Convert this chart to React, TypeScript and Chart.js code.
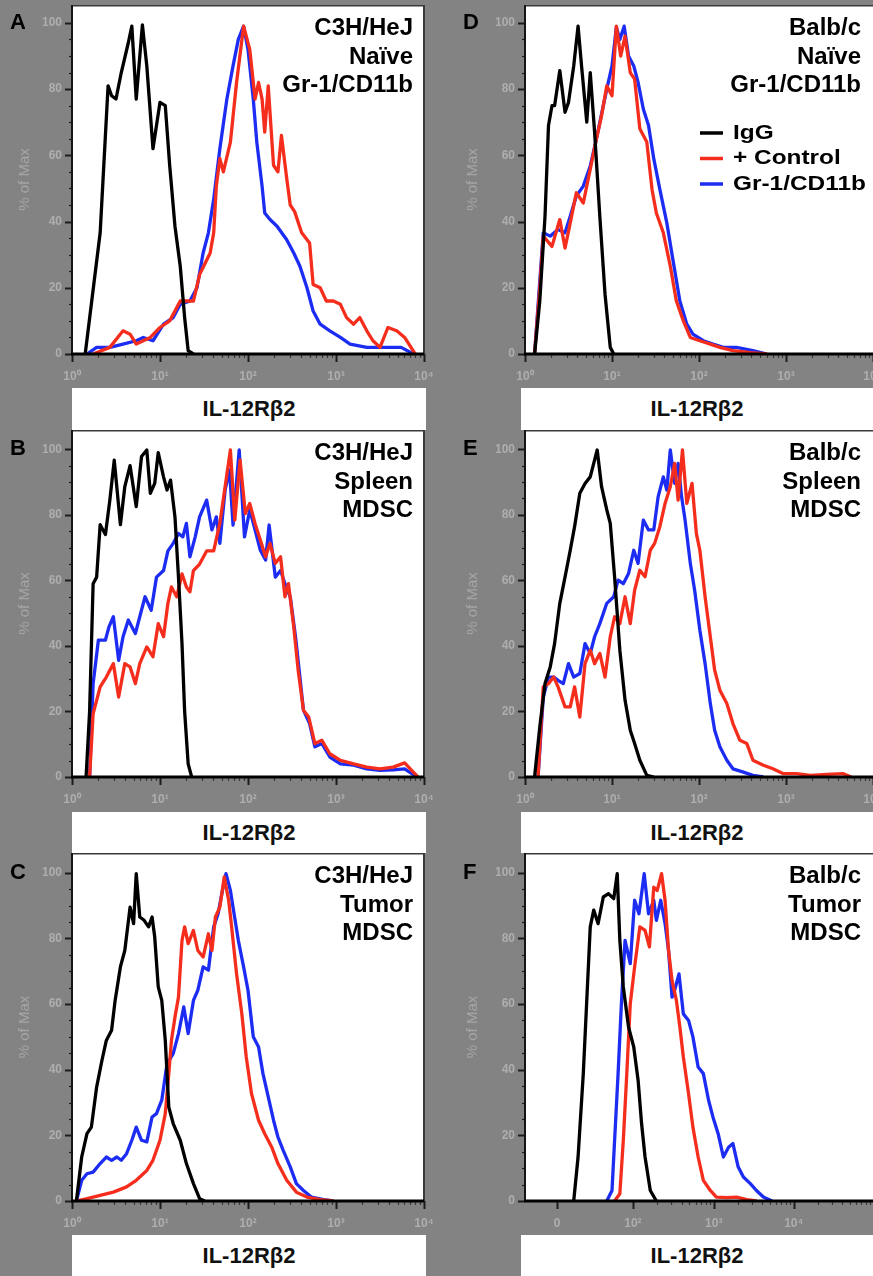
import React, { useEffect, useRef } from 'react';
import { Chart, registerables } from 'chart.js';

Chart.register(...registerables);

// ---------------- data ----------------
const SERIES_LABELS = ['IgG', '+ Control', 'Gr-1/CD11b'];
const SERIES_COLORS = ['#000000', '#f52d1c', '#1c2cf2'];

const Y_TICKS = [0, 20, 40, 60, 80, 100];
const Y_TITLE = '% of Max';
const X_TITLE = 'IL-12Rβ2';

// x values are in decades (log10 of fluorescence)
const X_TICKS_LOG = [0, 1, 2, 3, 4];
const X_TICK_LABELS_LOG = ['10⁰', '10¹', '10²', '10³', '10⁴'];
const X_TICKS_F = [0.37, 1.24, 2.17, 3.09];
const X_TICK_LABELS_F = ['0', '10²', '10³', '10⁴'];

const PANEL_LETTERS = ['A', 'B', 'C', 'D', 'E', 'F'];
const PANEL_TEXT = [
  ['C3H/HeJ', 'Naïve', 'Gr-1/CD11b'],
  ['C3H/HeJ', 'Spleen', 'MDSC'],
  ['C3H/HeJ', 'Tumor', 'MDSC'],
  ['Balb/c', 'Naïve', 'Gr-1/CD11b'],
  ['Balb/c', 'Spleen', 'MDSC'],
  ['Balb/c', 'Tumor', 'MDSC'],
];

type P = [number, number][];

const A_IGG: P = [[0.15,0],[0.32,36.6],[0.41,81],[0.45,78],[0.5,77],[0.56,85],[0.64,94],[0.68,99],[0.73,77],[0.8,99.4],[0.85,87],[0.92,62],[1.0,76],[1.06,75],[1.11,57],[1.17,38.6],[1.23,26.5],[1.28,11],[1.32,1],[1.38,0]];
const A_CTRL: P = [[0.24,0],[0.43,2],[0.58,7],[0.66,6],[0.73,3],[0.89,5],[1.0,8],[1.11,10],[1.23,16],[1.38,16],[1.45,24],[1.57,30.5],[1.61,36.6],[1.64,50.7],[1.68,59],[1.72,55],[1.8,64],[1.87,82],[1.95,99],[2.02,92],[2.08,77],[2.12,82],[2.16,77],[2.19,67],[2.23,81],[2.29,57],[2.34,55],[2.38,66],[2.44,53],[2.48,45],[2.53,43],[2.61,36.6],[2.7,33.5],[2.74,21],[2.82,20],[2.89,16],[2.97,16],[3.05,15],[3.12,11],[3.2,9],[3.27,11],[3.35,7],[3.42,4],[3.5,2],[3.59,8],[3.69,7],[3.78,5],[3.9,0]];
const A_GR1: P = [[0.17,0],[0.28,2],[0.43,2],[0.58,3],[0.73,4],[0.81,5],[0.92,4],[1.04,9],[1.15,11],[1.23,15],[1.34,16],[1.42,20],[1.49,30.5],[1.55,36.6],[1.61,46.7],[1.68,62],[1.76,77],[1.83,87],[1.89,95],[1.95,99],[2.0,92],[2.06,77],[2.1,64],[2.16,50.7],[2.19,42.6],[2.25,40.6],[2.33,38.6],[2.44,34.5],[2.52,30.5],[2.59,26.5],[2.67,20],[2.74,13],[2.82,9],[2.93,7],[3.05,5],[3.16,3],[3.35,2],[3.54,2],[3.74,2],[3.88,0]];

const B_IGG: P = [[0.16,0],[0.2,20],[0.24,59],[0.28,61],[0.32,77],[0.38,74],[0.43,84.5],[0.48,96.7],[0.55,77],[0.6,88.6],[0.66,95],[0.73,82.5],[0.79,97.8],[0.85,99.8],[0.89,86.6],[0.94,89.6],[0.98,99],[1.04,91.6],[1.08,87.6],[1.12,90.6],[1.17,79.4],[1.21,61],[1.25,40.7],[1.28,20],[1.32,4],[1.36,0]];
const B_CTRL: P = [[0.2,0],[0.24,19.3],[0.32,27.5],[0.39,30.5],[0.47,34.6],[0.53,24.4],[0.6,34.6],[0.66,33.6],[0.72,28.5],[0.77,34.6],[0.85,39.7],[0.92,36.7],[0.98,46.8],[1.04,42.8],[1.09,53],[1.13,58],[1.19,55],[1.25,62],[1.3,58],[1.34,56.5],[1.38,63],[1.45,65],[1.53,69],[1.61,69],[1.68,77.4],[1.74,88.6],[1.8,99.8],[1.85,78.4],[1.91,96.7],[1.97,80.4],[2.02,83.5],[2.08,77.4],[2.14,72.3],[2.2,67.2],[2.25,71.3],[2.31,65.2],[2.37,67.2],[2.42,55],[2.46,59],[2.52,45.8],[2.57,32.6],[2.63,20.4],[2.69,18.3],[2.76,10.2],[2.84,11.2],[2.93,7.1],[3.05,5.1],[3.2,4],[3.35,3],[3.5,2.5],[3.65,3],[3.78,4.3],[3.86,2],[3.93,0]];
const B_GR1: P = [[0.2,0],[0.24,28.5],[0.3,41.8],[0.38,41.8],[0.42,45.8],[0.47,48.9],[0.53,35.6],[0.58,42.8],[0.64,47.9],[0.72,43.8],[0.77,48.9],[0.83,55],[0.9,50.9],[0.96,61],[1.04,63],[1.09,69],[1.15,71.3],[1.21,74.3],[1.26,73.3],[1.3,77.4],[1.34,67.2],[1.4,73.3],[1.45,79.4],[1.53,84.5],[1.59,75.4],[1.64,79.4],[1.68,71.3],[1.74,87.6],[1.79,93.7],[1.83,76.9],[1.9,99.8],[1.96,73.3],[2.02,81.5],[2.08,75.4],[2.14,69.2],[2.2,66.2],[2.24,76.9],[2.31,61],[2.37,63],[2.42,59],[2.48,55],[2.54,42.8],[2.59,30.5],[2.63,20.4],[2.7,16.3],[2.76,9.2],[2.84,10.2],[2.93,6.1],[3.05,4],[3.2,3.6],[3.35,2.5],[3.5,2],[3.65,2.2],[3.78,2.5],[3.92,0]];

const C_IGG: P = [[0.05,0],[0.11,13.4],[0.17,20.5],[0.22,22.5],[0.28,34.7],[0.34,42.8],[0.39,48.9],[0.45,52],[0.49,61.1],[0.55,71.3],[0.6,76.3],[0.66,89.5],[0.7,84.5],[0.73,99.7],[0.77,86.5],[0.82,85.5],[0.87,83.5],[0.91,86.5],[0.94,80.4],[0.98,65.2],[1.02,61.1],[1.06,48.9],[1.1,28.6],[1.15,23.6],[1.23,18.5],[1.3,11.4],[1.38,5.3],[1.45,0.7],[1.51,0]];
const C_CTRL: P = [[0.05,0],[0.17,0.7],[0.32,1.7],[0.47,2.7],[0.62,4.3],[0.73,6.3],[0.85,9.3],[0.92,12.4],[1.0,18.5],[1.06,26.6],[1.1,38.8],[1.13,48.9],[1.17,56],[1.21,62.1],[1.25,79.4],[1.28,83.5],[1.32,78.4],[1.38,82.4],[1.43,76.3],[1.49,74.3],[1.55,81.4],[1.59,76.3],[1.63,86.5],[1.68,89.5],[1.73,98.7],[1.78,91.6],[1.81,84.5],[1.87,69.2],[1.93,57],[1.98,43.9],[2.04,32.7],[2.12,24.6],[2.19,20.5],[2.27,16.4],[2.34,11.4],[2.44,6.3],[2.55,2.7],[2.67,1.2],[2.82,0.4],[2.97,0]];
const C_GR1: P = [[0.05,0],[0.11,6.3],[0.17,8.3],[0.24,8.8],[0.32,11.4],[0.39,13.4],[0.45,12.4],[0.51,13.4],[0.56,12.4],[0.62,14.4],[0.68,18.5],[0.73,22.5],[0.79,18.5],[0.85,18],[0.91,25.6],[0.96,26.6],[1.02,30.7],[1.08,41.8],[1.15,44.9],[1.21,51],[1.27,59.1],[1.32,51],[1.38,61.1],[1.43,64.2],[1.49,71.3],[1.55,70.3],[1.61,83.5],[1.66,87.5],[1.71,94.6],[1.75,99.7],[1.8,94.6],[1.83,89.5],[1.89,79.4],[1.95,71.3],[2.0,64.2],[2.06,50],[2.12,46.9],[2.17,38.8],[2.23,31.7],[2.29,24.6],[2.34,19.5],[2.4,15.4],[2.48,10.4],[2.55,5.3],[2.63,3.2],[2.72,1.2],[2.86,0.4],[2.97,0]];

const D_IGG: P = [[0.11,0],[0.17,16],[0.23,41.6],[0.27,69],[0.31,75],[0.34,75],[0.4,85.6],[0.46,73],[0.5,76],[0.56,87],[0.61,99],[0.65,87],[0.71,70],[0.75,85],[0.8,67],[0.86,41.6],[0.92,18],[0.98,2],[1.02,0]];
const D_CTRL: P = [[0.11,0],[0.17,20],[0.21,35.6],[0.31,32.5],[0.4,40.6],[0.46,32],[0.52,39.6],[0.59,48.7],[0.67,45.6],[0.75,55.8],[0.82,64.8],[0.88,72],[0.94,81],[1.0,78],[1.05,99],[1.1,90],[1.15,96],[1.21,85],[1.26,83],[1.32,68],[1.4,64],[1.46,49.7],[1.51,42.6],[1.59,36.6],[1.67,26.5],[1.74,16],[1.82,10],[1.9,5],[2.01,4],[2.13,3],[2.24,2],[2.39,1],[2.59,0.4],[2.78,0]];
const D_GR1: P = [[0.11,0],[0.17,22],[0.21,36.6],[0.29,35.6],[0.38,37.6],[0.46,36.6],[0.52,41.6],[0.59,47.7],[0.67,50.7],[0.75,56.8],[0.82,64.8],[0.9,75],[0.94,80],[1.0,87],[1.05,98.7],[1.09,95],[1.14,99],[1.19,90],[1.25,87],[1.3,82],[1.36,74],[1.42,69],[1.48,59],[1.55,49.7],[1.63,39.6],[1.7,28.5],[1.78,16],[1.86,9],[1.93,6],[2.05,4],[2.16,3],[2.28,2],[2.43,2],[2.62,1],[2.78,0]];

const E_IGG: P = [[0.11,0],[0.17,15.3],[0.23,28.5],[0.29,33.6],[0.34,40.7],[0.4,53],[0.46,61],[0.52,69.2],[0.57,76.4],[0.63,86.6],[0.69,89.6],[0.75,91.6],[0.79,95.7],[0.83,99.8],[0.88,88.6],[0.94,81.5],[0.98,77.4],[1.03,61],[1.09,38.7],[1.15,23.4],[1.21,14.3],[1.26,10.2],[1.32,5.1],[1.4,0.5],[1.48,0]];
const E_CTRL: P = [[0.15,0],[0.21,27.5],[0.27,28.5],[0.33,30.5],[0.38,27.5],[0.46,21.4],[0.52,21.4],[0.57,27.5],[0.63,18.3],[0.69,34.6],[0.75,38.7],[0.8,34.6],[0.86,37.7],[0.92,30.5],[0.98,42.8],[1.03,48.9],[1.09,46.8],[1.15,55],[1.21,46.8],[1.26,57],[1.32,63.1],[1.38,61.1],[1.44,69.2],[1.49,71.3],[1.55,76.4],[1.61,83.5],[1.67,88.6],[1.72,95.7],[1.76,84.5],[1.81,99.8],[1.86,83.5],[1.92,89.6],[1.97,74.3],[2.01,69.2],[2.07,55],[2.13,42.8],[2.18,32.6],[2.24,26.5],[2.32,22.4],[2.39,16.3],[2.47,11.2],[2.55,10.2],[2.62,5.1],[2.74,3.6],[2.85,2.5],[2.97,1],[3.12,1],[3.28,0.5],[3.47,0.8],[3.66,1],[3.75,0]];
const E_GR1: P = [[0.15,0],[0.21,24.4],[0.27,30.5],[0.33,30.5],[0.38,29.5],[0.44,28.5],[0.5,34.6],[0.56,30.5],[0.63,31.6],[0.69,40.7],[0.75,37.7],[0.8,42.8],[0.86,46.8],[0.94,53],[1.02,55],[1.07,60.1],[1.13,59],[1.19,62.1],[1.25,69.2],[1.3,65.2],[1.36,78.4],[1.42,75.4],[1.48,75.4],[1.53,85.5],[1.59,91.6],[1.63,87.6],[1.67,99.8],[1.72,89.6],[1.76,95.7],[1.8,85.5],[1.84,78.4],[1.9,65.2],[1.95,57],[2.01,44.8],[2.07,34.6],[2.13,22.4],[2.18,14.3],[2.24,9.2],[2.32,5.1],[2.39,2.5],[2.51,1.5],[2.62,0.5],[2.74,0]];

const F_IGG: P = [[0.56,0],[0.61,13.4],[0.67,38.8],[0.71,61.1],[0.75,83.5],[0.79,88.6],[0.84,84.5],[0.9,92.6],[0.96,93.6],[1.02,92.1],[1.06,99.7],[1.09,79.4],[1.13,65.2],[1.19,53],[1.25,46.9],[1.3,36.8],[1.34,23.6],[1.38,13.4],[1.44,3.2],[1.51,0]];
const F_CTRL: P = [[1.03,0],[1.09,2.2],[1.13,18.5],[1.17,38.8],[1.21,60.1],[1.26,71.3],[1.32,83.5],[1.38,82.4],[1.43,77.4],[1.48,95.6],[1.52,94.6],[1.57,99.7],[1.61,91.6],[1.65,76.3],[1.69,67.2],[1.74,61.1],[1.78,53],[1.82,43.9],[1.88,32.7],[1.93,22.5],[1.99,13.4],[2.05,6.3],[2.13,3.2],[2.2,1.2],[2.32,1],[2.43,1.2],[2.55,0.4],[2.66,0]];
const F_GR1: P = [[0.94,0],[1.0,3.2],[1.03,18.5],[1.07,38.8],[1.11,61.1],[1.15,79.4],[1.21,72.3],[1.26,91.6],[1.31,87.5],[1.37,99.7],[1.42,87.5],[1.48,91.6],[1.51,85.5],[1.56,91.6],[1.61,84.5],[1.65,76.3],[1.69,62.1],[1.72,64.2],[1.77,69.2],[1.82,57],[1.88,55],[1.93,50],[1.99,40.8],[2.05,38.8],[2.11,30.7],[2.16,25.6],[2.22,20.5],[2.28,13.4],[2.34,16.4],[2.39,17.5],[2.45,10.4],[2.51,7.3],[2.59,5.3],[2.66,3.2],[2.74,1.2],[2.84,0]];

const PANEL_SERIES: P[][] = [
  [A_IGG, A_CTRL, A_GR1],
  [B_IGG, B_CTRL, B_GR1],
  [C_IGG, C_CTRL, C_GR1],
  [D_IGG, D_CTRL, D_GR1],
  [E_IGG, E_CTRL, E_GR1],
  [F_IGG, F_CTRL, F_GR1],
];

// ---------------- layout ----------------
const BG = '#838383';
const TICK_COLOR = '#aeaeae';
const FONT = '"Liberation Sans", Arial, Helvetica, sans-serif';
const Y_AXIS_W = 72;
const COLS = [
  { plotLeft: 72, plotW: 352, rightPad: 17, boxLeft: 72, boxW: 354, titlePad: 16, textInset: 11 },
  { plotLeft: 525, plotW: 348, rightPad: 0, boxLeft: 521, boxW: 352, titlePad: 11, textInset: 12 },
];
const ROWS = [
  { canvasTop: 0, canvasH: 388, padTop: 5, xAxisH: 34, yMax: 105.4, boxTop: 388, boxH: 42 },
  { canvasTop: 428, canvasH: 384, padTop: 2, xAxisH: 35, yMax: 105.9, boxTop: 812, boxH: 41 },
  { canvasTop: 851, canvasH: 384, padTop: 2, xAxisH: 34, yMax: 106, boxTop: 1235, boxH: 41 },
];

function minorTicks(majors: number[], isF: boolean): number[] {
  const out: number[] = [];
  const segs: [number, number][] = [];
  for (let i = 0; i < majors.length - 1; i++) {
    if (isF && i === 0) continue;
    segs.push([majors[i], majors[i + 1]]);
  }
  if (isF) segs.push([majors[majors.length - 1], majors[majors.length - 1] + 0.92]);
  for (const [a, b] of segs) {
    for (let m = 2; m <= 9; m++) out.push(a + (b - a) * Math.log10(m));
  }
  return out;
}

function makeDecor(idx: number) {
  const col = Math.floor(idx / 3);
  const c = COLS[col];
  const isF = idx === 5;
  const majors = isF ? X_TICKS_F : X_TICKS_LOG;
  const minors = minorTicks(majors, isF);
  return {
    id: 'decor' + idx,
    beforeDraw(chart: any) {
      const { ctx, chartArea: a } = chart;
      ctx.save();
      ctx.fillStyle = '#ffffff';
      ctx.fillRect(a.left, a.top, a.right - a.left, a.bottom - a.top);
      ctx.restore();
      // soften the scanned-looking axis labels drawn by the scales
      ctx.filter = 'blur(0.7px)';
    },
    beforeDatasetsDraw(chart: any) {
      chart.ctx.filter = 'none';
    },
    afterDatasetsDraw(chart: any) {
      const { ctx, chartArea: a, scales } = chart;
      const x = scales.x;
      const y = scales.y;
      ctx.save();
      ctx.filter = 'none';
      // y ticks (major + minor)
      ctx.strokeStyle = '#1c1c1c';
      for (let v = 0; v <= 100; v += 5) {
        const py = Math.round(y.getPixelForValue(v)) + 0.5;
        const major = v % 20 === 0;
        ctx.lineWidth = major ? 2 : 1.2;
        ctx.beginPath();
        ctx.moveTo(a.left - (major ? 7 : 3), py);
        ctx.lineTo(a.left, py);
        ctx.stroke();
      }
      // x ticks
      for (const v of majors) {
        const px = Math.round(x.getPixelForValue(v)) + 0.5;
        ctx.lineWidth = 2;
        ctx.beginPath();
        ctx.moveTo(px, a.bottom);
        ctx.lineTo(px, a.bottom + 8);
        ctx.stroke();
      }
      ctx.strokeStyle = '#3a3a3a';
      for (const v of minors) {
        if (v > 4) continue;
        const px = Math.round(x.getPixelForValue(v)) + 0.5;
        ctx.lineWidth = 1.2;
        ctx.beginPath();
        ctx.moveTo(px, a.bottom);
        ctx.lineTo(px, a.bottom + 4);
        ctx.stroke();
      }
      // frame
      ctx.lineCap = 'butt';
      ctx.strokeStyle = '#3a3a3a';
      ctx.lineWidth = 1.5;
      ctx.beginPath();
      ctx.moveTo(a.left, a.top + 0.75);
      ctx.lineTo(a.right, a.top + 0.75);
      ctx.stroke();
      if (col === 0) {
        ctx.lineWidth = 2;
        ctx.beginPath();
        ctx.moveTo(a.right, a.top);
        ctx.lineTo(a.right, a.bottom);
        ctx.stroke();
      }
      ctx.strokeStyle = '#151515';
      ctx.lineWidth = 2;
      ctx.beginPath();
      ctx.moveTo(a.left, a.top);
      ctx.lineTo(a.left, a.bottom);
      ctx.stroke();
      ctx.strokeStyle = '#000000';
      ctx.lineWidth = 3;
      ctx.beginPath();
      ctx.moveTo(a.left - 1, a.bottom);
      ctx.lineTo(a.right, a.bottom);
      ctx.stroke();

      // panel letter
      ctx.fillStyle = '#000000';
      ctx.textAlign = 'left';
      ctx.textBaseline = 'alphabetic';
      ctx.font = `bold 22px ${FONT}`;
      ctx.fillText(PANEL_LETTERS[idx], a.left - 62, y.getPixelForValue(100) + 6);

      // condition text
      ctx.font = `bold 24px ${FONT}`;
      ctx.textAlign = 'right';
      const lines = PANEL_TEXT[idx];
      const offs = [30, 58.5, 87];
      lines.forEach((t, i) => ctx.fillText(t, a.right - c.textInset, a.top + offs[i]));

      // legend (panel D)
      if (idx === 3) {
        const ds = chart.data.datasets;
        ds.forEach((d: any, i: number) => {
          const cy = a.top + 128 + i * 25.5;
          ctx.strokeStyle = d.borderColor;
          ctx.lineWidth = 3.5;
          ctx.beginPath();
          ctx.moveTo(a.left + 175, cy);
          ctx.lineTo(a.left + 198, cy);
          ctx.stroke();
          ctx.save();
          ctx.translate(a.left + 208, cy + 5.5);
          ctx.scale(1.22, 1);
          ctx.font = `bold 20px ${FONT}`;
          ctx.textAlign = 'left';
          ctx.fillStyle = '#000000';
          ctx.fillText(d.label, 0, 0);
          ctx.restore();
        });
      }
      ctx.restore();
    },
  };
}

function Panel({ idx }: { idx: number }) {
  const ref = useRef<HTMLCanvasElement>(null);
  const col = Math.floor(idx / 3);
  const row = idx % 3;
  const c = COLS[col];
  const r = ROWS[row];
  const canvasLeft = c.plotLeft - Y_AXIS_W;
  const canvasW = Y_AXIS_W + c.plotW + c.rightPad;

  useEffect(() => {
    const isF = idx === 5;
    const xt = isF ? X_TICKS_F : X_TICKS_LOG;
    const xl = isF ? X_TICK_LABELS_F : X_TICK_LABELS_LOG;
    const series = PANEL_SERIES[idx];
    const chart = new Chart(ref.current as HTMLCanvasElement, {
      type: 'line',
      data: {
        datasets: series.map((pts, i) => ({
          label: SERIES_LABELS[i],
          data: pts.map(([px, py]) => ({ x: px, y: py })),
          borderColor: SERIES_COLORS[i],
          backgroundColor: SERIES_COLORS[i],
          borderWidth: 3.3,
          pointRadius: 0,
          tension: 0,
          fill: false,
          borderJoinStyle: 'round',
        })),
      },
      options: {
        animation: false,
        responsive: false,
        events: [],
        layout: { padding: { top: r.padTop, right: c.rightPad, left: 0, bottom: 0 } },
        plugins: { legend: { display: false }, tooltip: { enabled: false } },
        scales: {
          x: {
            type: 'linear',
            min: 0,
            max: 4,
            grid: { display: false, drawTicks: false },
            border: { display: false },
            afterBuildTicks: (s: any) => {
              s.ticks = xt.map((v) => ({ value: v }));
            },
            afterFit: (s: any) => {
              s.height = r.xAxisH;
              s.paddingLeft = 0;
              s.paddingRight = 0;
            },
            ticks: {
              autoSkip: false,
              maxRotation: 0,
              minRotation: 0,
              padding: 15,
              color: TICK_COLOR,
              font: { family: FONT, size: 12, weight: 'bold' },
              callback: (_v: any, i: number) => xl[i],
            },
          },
          y: {
            type: 'linear',
            min: 0,
            max: r.yMax,
            grid: { display: false, drawTicks: false },
            border: { display: false },
            afterBuildTicks: (s: any) => {
              s.ticks = Y_TICKS.map((v) => ({ value: v }));
            },
            afterFit: (s: any) => {
              s.width = Y_AXIS_W;
              s.paddingTop = 0;
              s.paddingBottom = 0;
            },
            ticks: {
              padding: 10,
              color: TICK_COLOR,
              font: { family: FONT, size: 12, weight: 'bold' },
              callback: (v: any) => String(v),
            },
            title: {
              display: true,
              text: Y_TITLE,
              color: '#a6a6a6',
              font: { family: FONT, size: 15 },
              padding: { top: c.titlePad, bottom: 0 },
            },
          },
        },
      } as any,
      plugins: [makeDecor(idx)],
    });
    return () => chart.destroy();
  }, [idx]);

  return (
    <>
      <canvas
        ref={ref}
        width={canvasW}
        height={r.canvasH}
        style={{ position: 'absolute', left: canvasLeft, top: r.canvasTop, width: canvasW, height: r.canvasH, display: 'block' }}
      />
      <div
        style={{
          position: 'absolute',
          left: c.boxLeft,
          top: r.boxTop,
          width: c.boxW,
          height: r.boxH,
          background: '#ffffff',
          display: 'flex',
          alignItems: 'center',
          justifyContent: 'center',
          font: `bold 22px ${FONT}`,
          color: '#111111',
        }}
      >
        {X_TITLE}
      </div>
    </>
  );
}

export default function App() {
  return (
    <div
      style={{
        position: 'absolute',
        left: 0,
        top: 0,
        width: 873,
        height: 1276,
        background: BG,
        overflow: 'hidden',
      }}
    >
      {[0, 1, 2, 3, 4, 5].map((i) => (
        <Panel key={i} idx={i} />
      ))}
    </div>
  );
}
